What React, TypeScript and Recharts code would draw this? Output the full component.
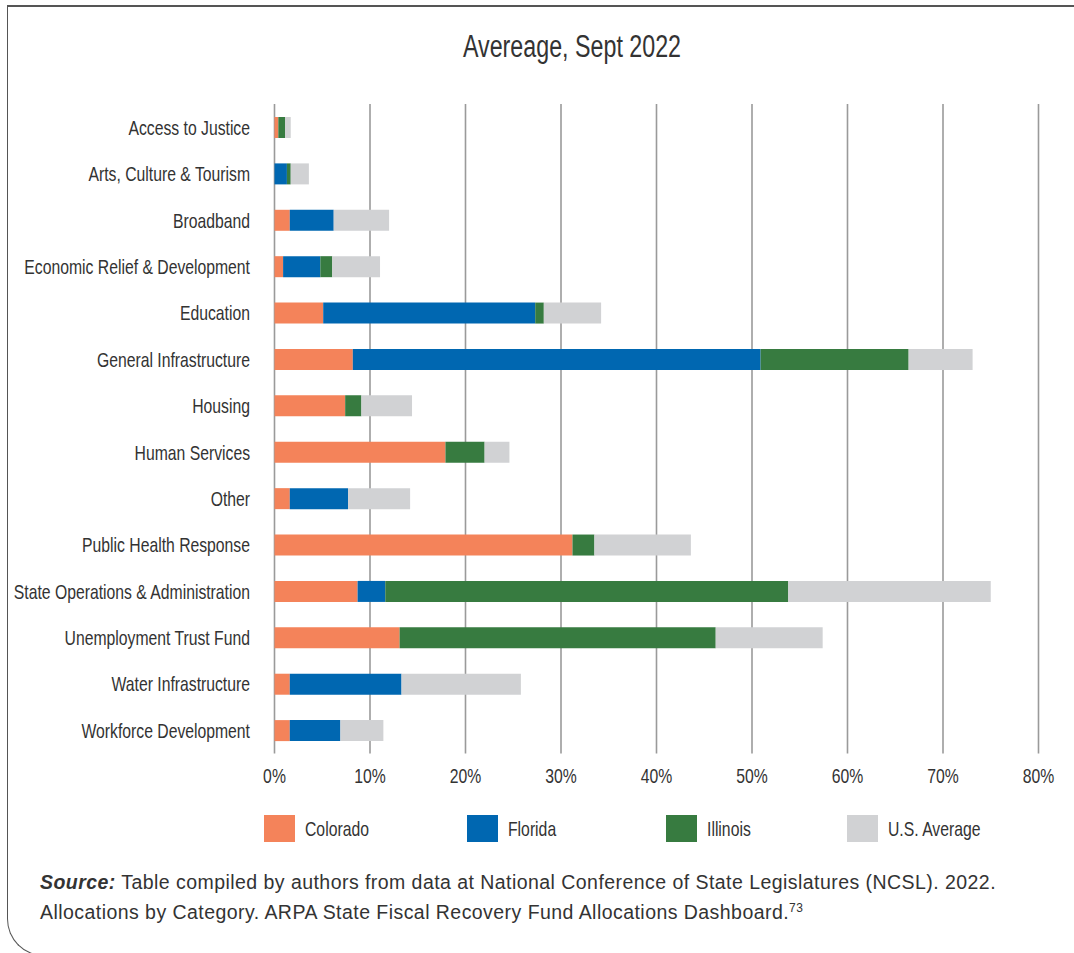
import { BarChart, Bar, XAxis, YAxis, CartesianGrid } from 'recharts';

const CATEGORIES = [
  'Access to Justice',
  'Arts, Culture & Tourism',
  'Broadband',
  'Economic Relief & Development',
  'Education',
  'General Infrastructure',
  'Housing',
  'Human Services',
  'Other',
  'Public Health Response',
  'State Operations & Administration',
  'Unemployment Trust Fund',
  'Water Infrastructure',
  'Workforce Development',
];

const COLORADO = [0.4, 0, 1.6, 0.9, 5.1, 8.2, 7.4, 17.9, 1.6, 31.2, 8.7, 13.1, 1.6, 1.6];
const FLORIDA = [0, 1.3, 4.6, 3.9, 22.2, 42.7, 0, 0, 6.1, 0, 2.9, 0, 11.7, 5.3];
const ILLINOIS = [0.7, 0.4, 0, 1.25, 0.9, 15.5, 1.7, 4.1, 0, 2.3, 42.2, 33.1, 0, 0];
const US_AVERAGE = [0.6, 1.9, 5.8, 5.0, 6.0, 6.7, 5.3, 2.6, 6.5, 10.1, 21.2, 11.2, 12.5, 4.5];

const X_TICKS = [0, 10, 20, 30, 40, 50, 60, 70, 80];

const SERIES = [
  { key: 'colorado', name: 'Colorado', color: '#F4835A' },
  { key: 'florida', name: 'Florida', color: '#0067B1' },
  { key: 'illinois', name: 'Illinois', color: '#377B40' },
  { key: 'usAverage', name: 'U.S. Average', color: '#D1D2D4' },
];

// left edge of each legend swatch
const LEGEND_LEFT = [264, 467, 666, 847];

// no condensed face installed, so squeeze Liberation Sans horizontally
const FONT = '"Liberation Sans", Arial, sans-serif';
const SQUEEZE = 0.75;
const TEXT = '#333333';

const data = CATEGORIES.map((name, i) => ({
  name,
  colorado: COLORADO[i],
  florida: FLORIDA[i],
  illinois: ILLINOIS[i],
  usAverage: US_AVERAGE[i],
}));

interface TickProps {
  x?: number;
  y?: number;
  payload?: { value: string | number };
}

const CategoryTick = ({ x = 0, y = 0, payload }: TickProps) => (
  <g transform={`translate(${x},${y})`}>
    <text
      transform={`scale(${SQUEEZE},1)`}
      textAnchor="end"
      dy="0.36em"
      fontFamily={FONT}
      fontSize={21}
      fill={TEXT}
    >
      {payload?.value}
    </text>
  </g>
);

const PercentTick = ({ x = 0, y = 0, payload }: TickProps) => (
  <g transform={`translate(${x},${y + 29.5})`}>
    <text transform={`scale(${SQUEEZE},1)`} textAnchor="middle" fontFamily={FONT} fontSize={21} fill={TEXT}>
      {`${payload?.value}%`}
    </text>
  </g>
);

const App = () => {
  return (
    <div
      style={{
        position: 'fixed',
        left: 0,
        top: 0,
        width: 1074,
        height: 953,
        overflow: 'hidden',
        background: '#fff',
      }}
    >
      {/* frame with rounded lower-left corner */}
      <div
        style={{
          position: 'absolute',
          left: 7,
          top: 5,
          width: 1120,
          height: 951,
          borderTop: '2px solid #555',
          borderLeft: '1.5px solid #555',
          borderBottom: '1.5px solid #555',
          borderBottomLeftRadius: 37,
          boxSizing: 'border-box',
        }}
      />
      <div
        style={{
          position: 'absolute',
          left: 371.5,
          width: 400,
          top: 29.4,
          textAlign: 'center',
          fontFamily: FONT,
          fontSize: 31,
          color: TEXT,
          lineHeight: '36px',
          transform: `scaleX(${SQUEEZE})`,
          transformOrigin: 'center',
        }}
      >
        Avereage, Sept 2022
      </div>
      <div style={{ position: 'absolute', left: 0, top: 0 }}>
        <BarChart
          width={1074}
          height={800}
          data={data}
          layout="vertical"
          margin={{ top: 104, right: 35.5, bottom: 6.5, left: 0 }}
        >
          <CartesianGrid horizontal={false} stroke="#9a9a9a" strokeWidth={1.6} />
          <XAxis
            type="number"
            domain={[0, 80]}
            ticks={X_TICKS}
            axisLine={false}
            tickLine={false}
            tickSize={0}
            tickMargin={0}
            height={40}
            tick={<PercentTick />}
            interval={0}
          />
          <YAxis
            type="category"
            dataKey="name"
            width={274.5}
            axisLine={false}
            tickLine={false}
            tickSize={0}
            tickMargin={24.5}
            interval={0}
            tick={<CategoryTick />}
          />
          {SERIES.map((s) => (
            <Bar
              key={s.key}
              dataKey={s.key}
              name={s.name}
              stackId="a"
              fill={s.color}
              barSize={21}
              isAnimationActive={false}
            />
          ))}
        </BarChart>
      </div>
      {SERIES.map((s, i) => (
        <div
          key={s.key}
          style={{
            position: 'absolute',
            left: LEGEND_LEFT[i],
            top: 815,
            height: 27,
            display: 'flex',
            alignItems: 'center',
            fontFamily: FONT,
            fontSize: 21,
            color: TEXT,
            whiteSpace: 'nowrap',
          }}
        >
          <span style={{ width: 31, height: 27, background: s.color, display: 'inline-block' }} />
          <span
            style={{
              marginLeft: 10,
              display: 'inline-block',
              transform: `scaleX(${SQUEEZE})`,
              transformOrigin: 'left center',
            }}
          >
            {s.name}
          </span>
        </div>
      ))}
      <div
        style={{
          position: 'absolute',
          left: 40,
          top: 866.6,
          width: 1020,
          fontFamily: FONT,
          fontSize: 19.5,
          letterSpacing: '0.45px',
          lineHeight: '30px',
          color: TEXT,
          whiteSpace: 'nowrap',
        }}
      >
        <b>
          <i>Source:</i>
        </b>{' '}
        Table compiled by authors from data at National Conference of State Legislatures (NCSL). 2022.
        <br />
        Allocations by Category. ARPA State Fiscal Recovery Fund Allocations Dashboard.
        <sup style={{ fontSize: 12, lineHeight: 0 }}>73</sup>
      </div>
    </div>
  );
};

export default App;
